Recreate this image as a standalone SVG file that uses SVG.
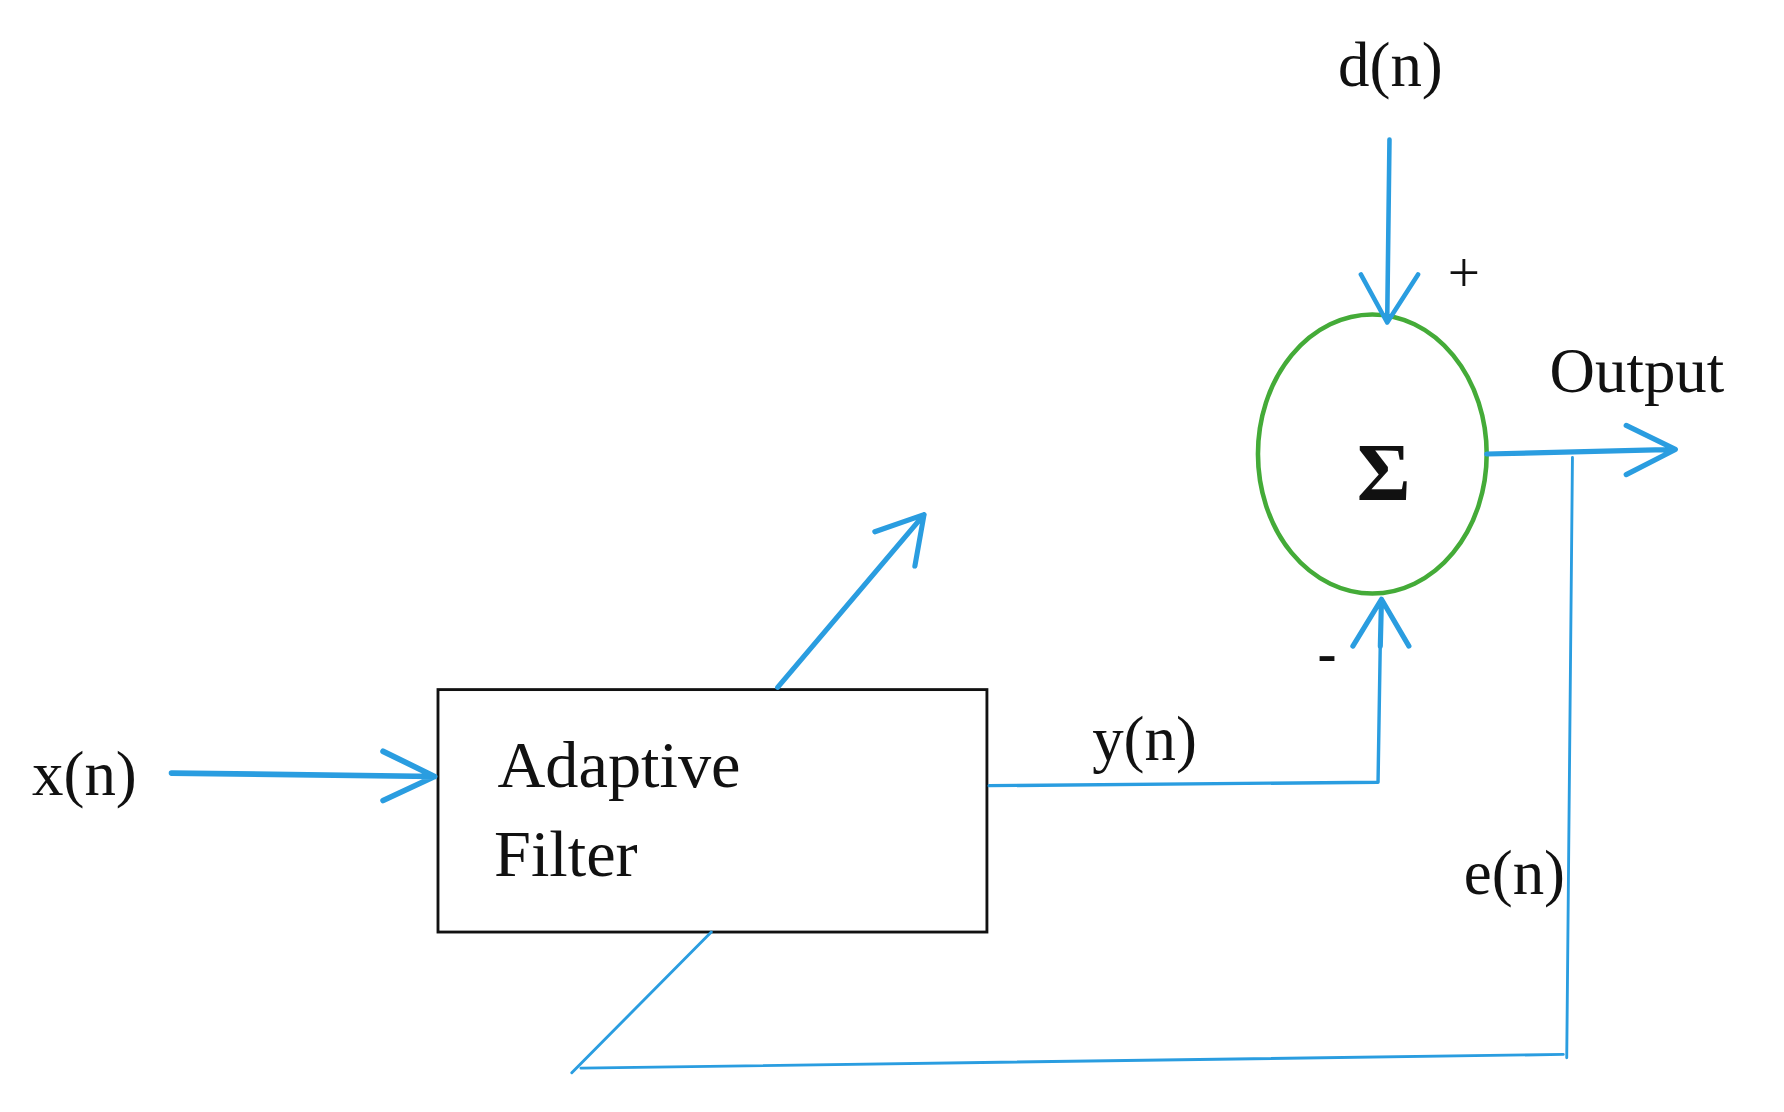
<svg xmlns="http://www.w3.org/2000/svg" width="1784" height="1112" viewBox="0 0 1784 1112">
<style>
.t{font-family:"Liberation Serif",serif;fill:#111}
.c{stroke:#2a9de0;fill:none;stroke-linecap:round;stroke-linejoin:round}
</style>
<rect width="1784" height="1112" fill="#fff"/>
<g transform="scale(1.1436)">
<g id="filter"><rect x="383" y="603" width="480" height="212" fill="#fff" stroke="#111" stroke-width="2.5"/>
<text class="t" x="435" y="688" font-size="58">Adaptive</text>
<text class="t" x="432" y="766" font-size="58">Filter</text></g>
<g id="sum"><ellipse cx="1200" cy="397" rx="100" ry="122" fill="none" stroke="#44ab38" stroke-width="4"/>
<text class="t" x="1210" y="437" font-size="72" font-weight="bold" text-anchor="middle">Σ</text></g>
<g id="labels">
<text class="t" x="28" y="695" font-size="55">x(n)</text>
<text class="t" x="1170" y="75" font-size="55">d(n)</text>
<text class="t" x="1266" y="255" font-size="50">+</text>
<text class="t" x="1355" y="343" font-size="55">Output</text>
<text class="t" x="955" y="665" font-size="55">y(n)</text>
<text class="t" x="1152" y="588" font-size="50" font-weight="bold">-</text>
<text class="t" x="1280" y="782" font-size="55">e(n)</text>
</g>
<g id="connectors">
<path class="c" stroke-width="5" d="M150 676 L380 679 M335 657 L380 679 L335 700"/>
<path class="c" stroke-width="4.5" d="M680 601 L808 450 M765 465 L808 450 L800 495"/>
<path class="c" stroke-width="3" d="M865 687 L1205 684 L1207 560"/>
<path class="c" stroke-width="4.5" d="M1207 565 L1208 524 M1183 565 L1208 524 L1232 565"/>
<path class="c" stroke-width="4" d="M1215 122 L1213 282 M1190 240 L1213 282 L1240 240"/>
<path class="c" stroke-width="4.5" d="M1300 397 L1465 393 M1422 372 L1465 393 L1422 415"/>
<path class="c" stroke-width="2.5" d="M1375 400 L1370 925 M1367 922 L508 934 M500 938 L622 815"/>
</g>
</g>
</svg>
